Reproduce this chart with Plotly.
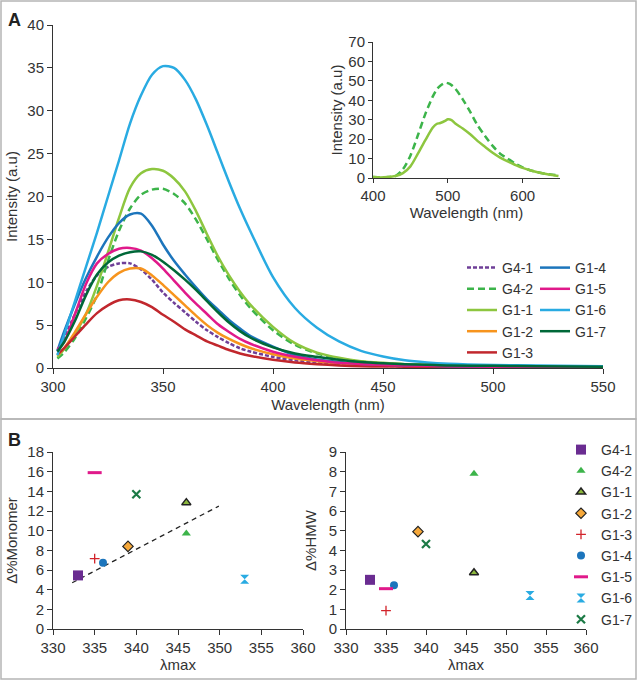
import plotly.graph_objects as go

# ---------------- Panel A: emission spectra ----------------
wl = [302, 305, 310, 315, 320, 325, 330, 335, 340, 345, 350, 355, 360, 365, 370, 375,
      380, 385, 390, 400, 410, 420, 430, 440, 450, 460, 470, 480, 500, 520, 550]

g4_1 = [2.0, 3.5, 6.3, 8.9, 10.8, 11.8, 12.2, 12.2, 11.5, 10.3, 8.8, 7.6, 6.5, 5.4, 4.4, 3.6,
        2.9, 2.3, 1.9, 1.3, 0.9, 0.6, 0.4, 0.3, 0.25, 0.2, 0.15, 0.12, 0.1, 0.08, 0.05]
g4_2 = [1.1, 1.8, 3.5, 5.8, 8.5, 12.5, 16.0, 18.6, 20.2, 20.8, 20.9, 20.3, 19.2, 17.3, 15.0, 12.6,
        10.4, 8.5, 6.9, 4.4, 2.7, 1.7, 1.1, 0.75, 0.55, 0.4, 0.35, 0.3, 0.2, 0.18, 0.15]
g1_1 = [1.3, 2.2, 4.0, 6.3, 9.6, 13.5, 17.5, 21.0, 22.7, 23.2, 23.0, 22.1, 20.6, 18.3, 15.6, 13.0,
        10.8, 8.9, 7.3, 4.8, 2.9, 1.8, 1.2, 0.8, 0.6, 0.45, 0.38, 0.3, 0.25, 0.2, 0.15]
g1_2 = [1.5, 2.3, 4.2, 6.3, 8.3, 10.0, 11.1, 11.6, 11.6, 10.8, 9.7, 8.5, 7.3, 6.1, 5.0, 4.1,
        3.4, 2.8, 2.3, 1.6, 1.1, 0.8, 0.55, 0.4, 0.3, 0.25, 0.2, 0.18, 0.15, 0.12, 0.1]
g1_3 = [1.6, 2.3, 3.7, 5.1, 6.4, 7.3, 7.9, 8.0, 7.7, 7.1, 6.2, 5.4, 4.5, 3.8, 3.1, 2.6,
        2.1, 1.7, 1.4, 0.95, 0.65, 0.45, 0.3, 0.2, 0.17, 0.15, 0.12, 0.1, 0.1, 0.08, 0.05]
g1_4 = [2.0, 4.2, 7.5, 10.5, 13.0, 15.2, 16.9, 17.9, 18.0, 16.6, 14.4, 12.5, 10.9, 9.4, 8.0, 6.8,
        5.6, 4.6, 3.7, 2.5, 1.5, 1.0, 0.7, 0.5, 0.4, 0.3, 0.25, 0.2, 0.15, 0.12, 0.1]
g1_5 = [2.2, 3.0, 6.3, 9.8, 12.2, 13.3, 13.9, 14.0, 13.7, 12.8, 11.6, 10.2, 8.8, 7.5, 6.3, 5.1,
        4.2, 3.4, 2.8, 1.9, 1.3, 0.9, 0.6, 0.45, 0.35, 0.3, 0.25, 0.2, 0.15, 0.12, 0.1]
g1_6 = [1.5, 3.8, 7.8, 11.8, 15.8, 20.0, 24.2, 28.5, 31.8, 34.2, 35.2, 35.0, 33.6, 31.3, 28.3, 25.0,
        21.7, 18.6, 15.8, 10.6, 7.0, 4.7, 3.1, 2.0, 1.35, 0.9, 0.65, 0.5, 0.35, 0.28, 0.2]
g1_7 = [1.9, 3.0, 5.5, 8.5, 10.9, 12.3, 13.1, 13.5, 13.6, 13.2, 12.4, 11.4, 10.3, 9.1, 7.8, 6.5,
        5.3, 4.3, 3.5, 2.4, 1.7, 1.3, 0.95, 0.7, 0.55, 0.45, 0.38, 0.3, 0.25, 0.2, 0.15]

spectra_names = ["G4-1", "G4-2", "G1-1", "G1-2", "G1-3", "G1-4", "G1-5", "G1-6", "G1-7"]
spectra = [g4_1, g4_2, g1_1, g1_2, g1_3, g1_4, g1_5, g1_6, g1_7]
colors = ["#6f3f98", "#3cb44a", "#8dc63f", "#f7941d", "#c1272d",
          "#1c75bc", "#e0198a", "#29abe2", "#006838"]
dashes = ["4px,2px", "7px,4px", "solid", "solid", "solid", "solid", "solid", "solid", "solid"]

# ---------------- Inset ----------------
inset_wl = [400, 410, 420, 430, 440, 450, 460, 470, 480, 485, 490, 497, 500, 505, 510, 520, 530,
            540, 550, 560, 570, 580, 590, 600, 610, 620, 630, 640, 648]
inset_g4_2 = [0.5, 0.3, 0.5, 1.0, 4.5, 11.5, 22.0, 33.0, 42.0, 45.5, 47.5, 49.0, 48.8, 47.8, 46.0,
              40.5, 34.0, 27.0, 21.5, 16.5, 12.5, 10.0, 7.5, 5.5, 4.0, 3.0, 2.2, 1.7, 1.3]
inset_g1_1 = [0.5, 0.3, 0.5, 1.0, 2.5, 6.0, 12.5, 19.5, 26.0, 27.8, 28.3, 29.5, 30.2, 29.8, 28.0,
              25.5, 22.5, 19.0, 16.0, 13.0, 10.5, 8.5, 6.8, 5.2, 4.0, 3.0, 2.2, 1.5, 1.0]

# ---------------- Panel B ----------------
b_names = ["G4-1", "G4-2", "G1-1", "G1-2", "G1-3", "G1-4", "G1-5", "G1-6", "G1-7"]
lambda_max = [333, 346, 346, 339, 335, 336, 335, 353, 340]
d_monomer = [5.45, 9.7, 12.85, 8.4, 7.15, 6.75, 15.9, 5.05, 13.7]
d_hmw = [2.5, 7.9, 2.86, 4.95, 0.93, 2.22, 2.05, 1.7, 4.32]
trend_x = [332.3, 349.9]
trend_y = [4.7, 12.5]

b_symbols = ["square", "triangle-up", "triangle-up", "diamond", "cross-thin",
             "circle", "line-ew", "hourglass", "x-thin"]
b_colors = ["#6a2c91", "#3cb44a", "#8cb83c", "#f6a83a", "#d2232a",
            "#1c75bc", "#e0198a", "#29abe2", "#1b7a45"]
b_sizes = [10, 8, 8, 8, 7, 8, 10, 9, 8]
b_line_colors = [None, None, "#222", "#222", "#d2232a", None, "#e0198a", "#29abe2", "#1b7a45"]
b_line_widths = [0, 0, 1.5, 1.2, 1.3, 0, 3, 0, 2.2]

FONT = "Liberation Sans, Arial, sans-serif"
TXT = "#333333"

fig = go.Figure()

for i, (name, ys) in enumerate(zip(spectra_names, spectra)):
    fig.add_trace(go.Scatter(
        x=wl, y=ys, mode="lines", name=name,
        line=dict(color=colors[i], width=2.5, dash=dashes[i], shape="spline", smoothing=0.8),
        xaxis="x", yaxis="y",
        legend="legend" if i < 5 else "legend2",
    ))

fig.add_trace(go.Scatter(x=inset_wl, y=inset_g4_2, mode="lines", showlegend=False,
                         line=dict(color=colors[1], width=2.5, dash="7px,4px", shape="spline", smoothing=0.8),
                         xaxis="x2", yaxis="y2"))
fig.add_trace(go.Scatter(x=inset_wl, y=inset_g1_1, mode="lines", showlegend=False,
                         line=dict(color=colors[2], width=2.5, shape="spline", smoothing=0.8),
                         xaxis="x2", yaxis="y2"))

# trend line
fig.add_trace(go.Scatter(x=trend_x, y=trend_y, mode="lines", showlegend=False,
                         line=dict(color="#222", width=1.3, dash="5px,4px"),
                         xaxis="x3", yaxis="y3"))

for i, name in enumerate(b_names):
    mk = dict(symbol=b_symbols[i], size=b_sizes[i], color=b_colors[i])
    if b_line_colors[i]:
        mk["line"] = dict(color=b_line_colors[i], width=b_line_widths[i])
    else:
        mk["line"] = dict(width=0)
    fig.add_trace(go.Scatter(x=[lambda_max[i]], y=[d_monomer[i]], mode="markers", name=name,
                             marker=mk, xaxis="x3", yaxis="y3", legend="legend3"))
    fig.add_trace(go.Scatter(x=[lambda_max[i]], y=[d_hmw[i]], mode="markers", name=name,
                             marker=mk, xaxis="x4", yaxis="y4", showlegend=False))

W, H = 637, 680


def px_x(p):
    return p / W


def px_y(p):
    return 1 - p / H


axis_common = dict(showline=True, linecolor=TXT, linewidth=1, ticks="outside", ticklen=5,
                   tickcolor=TXT, showgrid=False, zeroline=False,
                   tickfont=dict(family=FONT, size=15, color=TXT),
                   title_font=dict(family=FONT, size=15, color=TXT))

LEG_FONT = dict(family=FONT, size=14, color=TXT)

fig.update_layout(
    width=W, height=H,
    margin=dict(l=0, r=0, t=0, b=0, autoexpand=False),
    paper_bgcolor="white", plot_bgcolor="rgba(0,0,0,0)",
    font=dict(family=FONT, size=15, color=TXT),
    xaxis=dict(axis_common, domain=[px_x(53), px_x(603)], range=[300, 550], dtick=50,
               anchor="y", title=dict(text="Wavelength (nm)", standoff=5)),
    yaxis=dict(axis_common, domain=[px_y(368), px_y(25)], range=[0, 40], dtick=5,
               anchor="x", title=dict(text="Intensity (a.u)", standoff=6)),
    xaxis2=dict(axis_common, domain=[px_x(373), px_x(560)], range=[400, 650],
                tickvals=[400, 500, 600], anchor="y2", ticklen=4,
                title=dict(text="Wavelength (nm)", standoff=3)),
    yaxis2=dict(axis_common, domain=[px_y(178), px_y(42)], range=[0, 70], dtick=10,
                anchor="x2", ticklen=4, title=dict(text="Intensity (a.u)", standoff=2)),
    xaxis3=dict(axis_common, domain=[px_x(53), px_x(303)], range=[330, 360], dtick=5,
                anchor="y3", title=dict(text="λmax", standoff=4)),
    yaxis3=dict(axis_common, domain=[px_y(629), px_y(452)], range=[0, 18], dtick=2,
                anchor="x3", title=dict(text="Δ%Monomer", standoff=6)),
    xaxis4=dict(axis_common, domain=[px_x(346), px_x(586)], range=[330, 360], dtick=5,
                anchor="y4", title=dict(text="λmax", standoff=4)),
    yaxis4=dict(axis_common, domain=[px_y(629), px_y(452)], range=[0, 9], dtick=1,
                anchor="x4", title=dict(text="Δ%HMW", standoff=8)),
    legend=dict(x=px_x(462), y=px_y(252), xanchor="left", yanchor="top",
                bgcolor="rgba(0,0,0,0)", font=LEG_FONT, tracegroupgap=0, itemwidth=30),
    legend2=dict(x=px_x(535), y=px_y(252), xanchor="left", yanchor="top",
                 bgcolor="rgba(0,0,0,0)", font=LEG_FONT, tracegroupgap=0, itemwidth=30),
    legend3=dict(x=px_x(561), y=px_y(434), xanchor="left", yanchor="top",
                 bgcolor="rgba(0,0,0,0)", font=LEG_FONT, tracegroupgap=0, itemwidth=30),
    shapes=[
        dict(type="rect", xref="paper", yref="paper", x0=px_x(1), x1=px_x(636),
             y0=px_y(419), y1=px_y(1), line=dict(color="#b5b5b5", width=1.5)),
        dict(type="rect", xref="paper", yref="paper", x0=px_x(1), x1=px_x(636),
             y0=px_y(679), y1=px_y(419), line=dict(color="#b5b5b5", width=1.5)),
    ],
    annotations=[
        dict(text="<b>A</b>", x=px_x(6), y=px_y(8), xref="paper", yref="paper",
             xanchor="left", yanchor="top", showarrow=False,
             font=dict(family=FONT, size=18, color="#222")),
        dict(text="<b>B</b>", x=px_x(6), y=px_y(428), xref="paper", yref="paper",
             xanchor="left", yanchor="top", showarrow=False,
             font=dict(family=FONT, size=18, color="#222")),
    ],
)

fig.write_html("out.html", config={"displayModeBar": False},
               post_script="document.body.style.margin='0px';")
